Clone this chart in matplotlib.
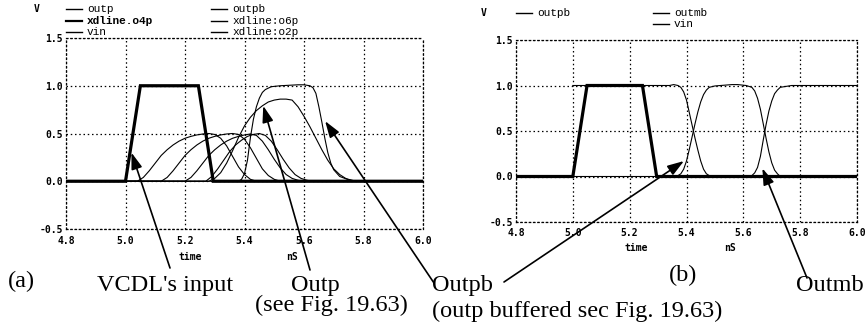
import matplotlib
matplotlib.use("Agg")
import matplotlib.pyplot as plt

# ---------------- data (time in nS, voltage in V) ----------------
x_ticks = [4.8, 5.0, 5.2, 5.4, 5.6, 5.8, 6.0]
x_tick_labels = ["4.8", "5.0", "5.2", "5.4", "5.6", "5.8", "6.0"]
y_ticks = [-0.5, 0.0, 0.5, 1.0, 1.5]
y_tick_labels = ["-0.5", "0.0", "0.5", "1.0", "1.5"]

vin_t = [4.80, 5.00, 5.05, 5.245, 5.295, 6.00]
vin_v = [0.0, 0.0, 1.0, 1.0, 0.0, 0.0]

# delay-line taps (panel a)
o2p_t = [4.80, 5.04, 5.06, 5.08, 5.10, 5.12, 5.14, 5.16, 5.18, 5.20, 5.22, 5.24, 5.26, 5.28,
         5.30, 5.32, 5.34, 5.36, 5.38, 5.40, 5.42, 5.44, 6.00]
o2p_v = [0.0, 0.0, 0.04, 0.11, 0.19, 0.27, 0.33, 0.38, 0.42, 0.45, 0.47, 0.485, 0.495, 0.50,
         0.49, 0.45, 0.37, 0.26, 0.15, 0.07, 0.02, 0.0, 0.0]

o4p_t = [4.80, 5.12, 5.14, 5.16, 5.18, 5.20, 5.22, 5.24, 5.26, 5.28, 5.30, 5.32, 5.34, 5.36,
         5.38, 5.40, 5.42, 5.44, 5.46, 5.48, 5.50, 5.52, 6.00]
o4p_v = [0.0, 0.0, 0.04, 0.11, 0.19, 0.27, 0.33, 0.38, 0.42, 0.45, 0.47, 0.485, 0.495, 0.50,
         0.49, 0.44, 0.35, 0.24, 0.13, 0.06, 0.02, 0.0, 0.0]

o6p_t = [4.80, 5.20, 5.22, 5.24, 5.26, 5.28, 5.30, 5.32, 5.34, 5.36, 5.38, 5.40, 5.42, 5.44,
         5.46, 5.48, 5.50, 5.52, 5.54, 5.56, 5.58, 5.60, 6.00]
o6p_v = [0.0, 0.0, 0.04, 0.11, 0.19, 0.27, 0.33, 0.38, 0.42, 0.45, 0.47, 0.485, 0.495, 0.48,
         0.42, 0.33, 0.23, 0.14, 0.07, 0.03, 0.01, 0.0, 0.0]

o8p_t = [4.80, 5.27, 5.29, 5.31, 5.33, 5.35, 5.37, 5.39, 5.41, 5.43, 5.45, 5.47, 5.49, 5.51,
         5.53, 5.55, 5.57, 5.59, 5.61, 5.63, 6.00]
o8p_v = [0.0, 0.0, 0.05, 0.13, 0.22, 0.31, 0.38, 0.43, 0.47, 0.49, 0.50, 0.48, 0.42, 0.33,
         0.23, 0.14, 0.07, 0.03, 0.01, 0.0, 0.0]

outpb_a_t = [4.80, 5.28, 5.30, 5.32, 5.34, 5.36, 5.38, 5.40, 5.42, 5.44, 5.46, 5.48, 5.50,
             5.52, 5.54, 5.56, 5.58, 5.60, 5.62, 5.64, 5.66, 5.68, 5.70, 5.72, 5.74, 5.76,
             5.78, 6.00]
outpb_a_v = [0.0, 0.0, 0.03, 0.09, 0.19, 0.32, 0.46, 0.58, 0.67, 0.74, 0.79, 0.83, 0.85,
             0.86, 0.86, 0.85, 0.78, 0.68, 0.57, 0.45, 0.33, 0.22, 0.13, 0.07, 0.03, 0.01,
             0.0, 0.0]

outp_t = [4.80, 5.38, 5.39, 5.40, 5.41, 5.42, 5.43, 5.44, 5.45, 5.46, 5.47, 5.49, 5.52,
          5.58, 5.60, 5.62, 5.63, 5.64, 5.65, 5.66, 5.67, 5.68, 5.69, 5.70, 5.72, 5.75,
          5.78, 6.00]
outp_v = [0.0, 0.0, 0.02, 0.08, 0.22, 0.46, 0.65, 0.78, 0.87, 0.93, 0.96, 0.99, 1.0,
          1.01, 1.01, 1.0, 0.98, 0.92, 0.78, 0.62, 0.45, 0.30, 0.19, 0.12, 0.05, 0.015,
          0.0, 0.0]

# buffered outputs (panel b)
outpb_t = [5.00, 5.36, 5.37, 5.38, 5.39, 5.40, 5.41, 5.42, 5.43, 5.44, 5.45, 5.46, 5.47,
           5.48, 5.50, 5.52, 5.56, 5.58, 5.61, 5.63, 5.64, 5.65, 5.66, 5.67, 5.68, 5.69,
           5.70, 5.71, 5.72, 5.73, 6.00]
outpb_v = [0.0, 0.0, 0.01, 0.03, 0.08, 0.17, 0.30, 0.44, 0.58, 0.71, 0.82, 0.90, 0.95,
           0.98, 0.995, 1.0, 1.01, 1.01, 1.0, 0.98, 0.94, 0.86, 0.74, 0.58, 0.42, 0.27,
           0.15, 0.07, 0.03, 0.0, 0.0]

outmb_t = [5.00, 5.34, 5.355, 5.37, 5.38, 5.39, 5.40, 5.41, 5.42, 5.43, 5.44, 5.45, 5.46,
           5.47, 5.48, 5.50, 5.62, 5.63, 5.64, 5.65, 5.66, 5.67, 5.68, 5.69, 5.70, 5.71,
           5.72, 5.73, 5.75, 5.77, 6.00]
outmb_v = [1.0, 1.0, 1.01, 1.0, 0.98, 0.93, 0.84, 0.70, 0.56, 0.42, 0.29, 0.17, 0.08,
           0.03, 0.01, 0.0, 0.0, 0.01, 0.04, 0.10, 0.22, 0.40, 0.57, 0.72, 0.83, 0.91,
           0.95, 0.98, 0.99, 1.0, 1.0]

# ---------------- figure ----------------
W, H = 868, 332
fig = plt.figure(figsize=(W / 100, H / 100), dpi=100)
fig.patch.set_facecolor("white")

def frac(px, py):
    return px / W, 1 - py / H

mono = "DejaVu Sans Mono"
serif = "Liberation Serif"
dot = (0, (1.2, 2.2))

def style_axes(ax, xlab_pad):
    ax.set_xlim(4.8, 6.0)
    ax.set_ylim(-0.5, 1.5)
    ax.set_xticks(x_ticks)
    ax.set_xticklabels(x_tick_labels, family=mono, fontsize=7, fontweight="bold")
    ax.set_yticks(y_ticks)
    ax.set_yticklabels(y_tick_labels, family=mono, fontsize=7, fontweight="bold")
    ax.tick_params(axis="both", length=0)
    ax.tick_params(axis="x", pad=xlab_pad)
    ax.tick_params(axis="y", pad=2)
    ax.grid(True, color="black", linestyle=dot, linewidth=0.9)
    for s in ax.spines.values():
        s.set_linestyle(dot)
        s.set_linewidth(0.9)
        s.set_color("black")

thin = dict(color="black", lw=0.8)
thick = dict(color="black", lw=2.3, solid_capstyle="butt", solid_joinstyle="miter")

# panel (a)
axa = fig.add_axes([66 / W, 1 - 229 / H, (423 - 66) / W, (229 - 38) / H])
style_axes(axa, 5)
axa.plot(o2p_t, o2p_v, **thin)
axa.plot(o4p_t, o4p_v, **thin)
axa.plot(o6p_t, o6p_v, **thin)
axa.plot(o8p_t, o8p_v, **thin)
axa.plot(outpb_a_t, outpb_a_v, **thin)
axa.plot(outp_t, outp_v, **thin)
axa.plot(vin_t, vin_v, **thick)

# panel (b)
axb = fig.add_axes([516 / W, 1 - 222 / H, (857 - 516) / W, (222 - 40) / H])
style_axes(axb, 4)
axb.plot(outpb_t, outpb_v, **thin)
axb.plot(outmb_t, outmb_v, **thin)
axb.plot(vin_t, vin_v, **thick)

# axis captions
for (x, y, s) in [(37, 8.5, "V"), (190, 257, "time"), (292, 257, "nS"),
                  (484, 12.5, "V"), (636, 248, "time"), (730, 248, "nS")]:
    fig.text(*frac(x, y), s, family=mono, fontsize=7, fontweight="bold",
             ha="center", va="center")

# legends
def legend_entry(x_line, y, text, bold=False, lw=1.0):
    x0, yy = frac(x_line, y)
    x1, _ = frac(x_line + 16, y)
    fig.add_artist(plt.Line2D([x0, x1], [yy, yy], color="black", lw=lw,
                              transform=fig.transFigure))
    fig.text(*frac(x_line + 21, y), text, family="Liberation Mono", fontsize=8,
             fontweight="bold" if bold else "normal", ha="left", va="center")

legend_entry(66, 9, "outp")
legend_entry(66, 20.5, "xdline.o4p", bold=True, lw=1.6)
legend_entry(66, 32, "vin")
legend_entry(211, 9, "outpb")
legend_entry(211, 20.5, "xdline:o6p")
legend_entry(211, 32, "xdline:o2p")
legend_entry(516, 12.5, "outpb")
legend_entry(653, 12.5, "outmb")
legend_entry(653, 24, "vin")

# callout labels
for (x, y, s, ha) in [(8, 287, "(a)", "left"), (97, 290.5, "VCDL's input", "left"),
                      (315, 290.5, "Outp", "center"), (331, 311.5, "(see Fig. 19.63)", "center"),
                      (432, 291, "Outpb", "left"),
                      (432, 316.5, "(outp buffered sec Fig. 19.63)", "left"),
                      (683, 281.5, "(b)", "center"), (830, 290.7, "Outmb", "center")]:
    fig.text(*frac(x, y), s, family=serif, fontsize=17.5, ha=ha, va="baseline")

arrow = dict(arrowstyle="-|>,head_length=0.9,head_width=0.3", color="black", lw=1.2,
             shrinkA=0, shrinkB=0, mutation_scale=11)

def callout(ax, tip, tail):
    ax.annotate("", xy=tip, xycoords="data", xytext=frac(*tail),
                textcoords="figure fraction", arrowprops=arrow, annotation_clip=False)

callout(axa, (5.02, 0.30), (170, 268))
callout(axa, (5.463, 0.79), (310, 270))
callout(axa, (5.671, 0.63), (434, 283))
callout(axb, (5.391, 0.17), (504, 282))
callout(axb, (5.667, 0.09), (807, 278))

fig.savefig("out.png", dpi=100, facecolor="white")
